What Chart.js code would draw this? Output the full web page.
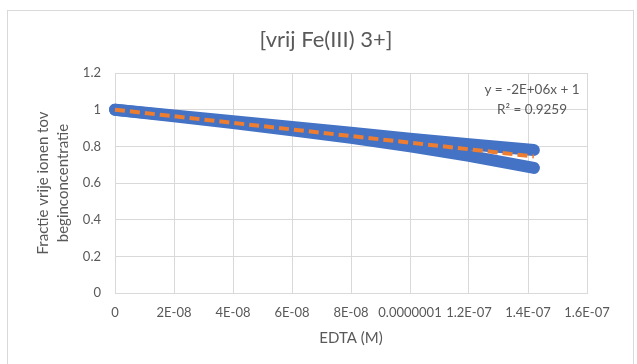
<!DOCTYPE html>
<html>
<head>
<meta charset="utf-8">
<script src="https://cdn.jsdelivr.net/npm/chart.js@4.4.1/dist/chart.umd.min.js"></script>
<style>
  html, body { margin: 0; padding: 0; background: #ffffff; }
  #wrap { width: 637px; height: 364px; }
</style>
</head>
<body>
<div id="wrap"><canvas id="chart" width="637" height="364"></canvas></div>
<script>
// EDTA concentration (M) and fraction of free Fe(III) ions
const edta = [0, 2e-8, 4e-8, 6e-8, 8e-8, 1e-7, 1.2e-7, 1.42e-7];
const fractionUpper = [1.0, 0.968, 0.937, 0.905, 0.874, 0.842, 0.811, 0.780];
const fractionLower = [1.0, 0.964, 0.927, 0.888, 0.846, 0.800, 0.748, 0.682];

// linear trendline
const trendSlope = -1.8e6;
const trendIntercept = 1;
const trendRange = [0, 1.42e-7];
const rSquared = 0.9259;

const xTickValues = [0, 2e-8, 4e-8, 6e-8, 8e-8, 1e-7, 1.2e-7, 1.4e-7, 1.6e-7];
const xTickLabels = ['0', '2E-08', '4E-08', '6E-08', '8E-08', '0.0000001', '1.2E-07', '1.4E-07', '1.6E-07'];
const yTickLabels = ['0', '0.2', '0.4', '0.6', '0.8', '1', '1.2'];

const FONT = 'Lato, "Open Sans", sans-serif';
const TEXT = '#595959';
const GRID = '#d9d9d9';
const BLUE = '#4472c4';

const toPoints = (xs, ys) => xs.map((x, i) => ({ x: x, y: ys[i] }));
const trendPoints = trendRange.map(x => ({ x: x, y: trendSlope * x + trendIntercept }));

// Excel-style exponent: -2E+06
function excelExp(v) {
  const [m, e] = v.toExponential(0).split('e');
  const n = parseInt(e, 10);
  return m + 'E' + (n < 0 ? '-' : '+') + String(Math.abs(n)).padStart(2, '0');
}
const equationText = 'y = ' + excelExp(trendSlope) + 'x + ' + trendIntercept;
const r2Text = 'R\u00b2 = ' + rSquared;

const frameAndLabels = {
  id: 'frameAndLabels',
  beforeDraw(chart) {
    const ctx = chart.ctx;
    ctx.save();
    ctx.fillStyle = '#ffffff';
    ctx.fillRect(0, 0, chart.width, chart.height);
    ctx.strokeStyle = GRID;
    ctx.lineWidth = 1;
    ctx.strokeRect(7.5, 10.5, 626, 370);
    ctx.fillStyle = TEXT;
    ctx.textAlign = 'center';
    ctx.textBaseline = 'middle';
    ctx.font = '22px ' + FONT;
    ctx.fillText('[vrij Fe(III) 3+]', 326, 40);
    ctx.restore();
  },
  afterDatasetsDraw(chart) {
    const ctx = chart.ctx;
    const area = chart.chartArea;
    ctx.save();
    ctx.fillStyle = TEXT;
    ctx.textAlign = 'center';
    ctx.textBaseline = 'middle';
    ctx.font = '13.5px ' + FONT;
    ctx.fillText(equationText, area.right - 55, area.top + 17);
    ctx.fillText(r2Text, area.right - 55, area.top + 37);
    ctx.restore();
  }
};

const bandStyle = {
  showLine: true,
  borderColor: BLUE,
  backgroundColor: BLUE,
  borderWidth: 12,
  borderCapStyle: 'round',
  borderJoinStyle: 'round',
  pointRadius: 0,
  clip: false
};

new Chart(document.getElementById('chart'), {
  type: 'scatter',
  data: {
    datasets: [
      Object.assign({ label: 'upper', data: toPoints(edta, fractionUpper), order: 2 }, bandStyle),
      Object.assign({ label: 'lower', data: toPoints(edta, fractionLower), order: 3 }, bandStyle),
      {
        label: 'trend',
        data: trendPoints,
        showLine: true,
        borderColor: '#ed7d31',
        borderWidth: 4,
        borderDash: [10, 5],
        pointRadius: 0,
        clip: false,
        order: 1
      }
    ]
  },
  plugins: [frameAndLabels],
  options: {
    responsive: false,
    animation: false,
    layout: { padding: { left: 30, right: 50, top: 73, bottom: 0 } },
    plugins: {
      legend: { display: false },
      tooltip: { enabled: false }
    },
    scales: {
      x: {
        type: 'linear',
        min: 0,
        max: 1.6e-7,
        afterBuildTicks(scale) {
          scale.ticks = xTickValues.map(v => ({ value: v }));
        },
        afterFit(scale) { scale.height = 71; },
        grid: { color: GRID, drawTicks: false },
        border: { color: GRID },
        ticks: {
          autoSkip: false,
          maxRotation: 0,
          padding: 12,
          color: TEXT,
          font: { family: FONT, size: 13 },
          callback: (v, i) => xTickLabels[i]
        },
        title: {
          display: true,
          text: 'EDTA (M)',
          color: TEXT,
          font: { family: FONT, size: 15 },
          padding: { top: 0, bottom: 17 }
        }
      },
      y: {
        min: 0,
        max: 1.2,
        afterBuildTicks(scale) {
          scale.ticks = yTickLabels.map(t => ({ value: parseFloat(t) }));
        },
        afterFit(scale) { scale.width = 85; },
        grid: { color: GRID, drawTicks: false },
        border: { display: false },
        ticks: {
          padding: 14,
          color: TEXT,
          font: { family: FONT, size: 13 },
          callback: (v, i) => yTickLabels[i]
        },
        title: {
          display: true,
          text: ['Fractie vrije ionen tov', 'beginconcentratie'],
          color: TEXT,
          font: { family: FONT, size: 15, lineHeight: 1.35 },
          padding: { top: 3, bottom: 0 }
        }
      }
    }
  }
});
</script>
</body>
</html>
